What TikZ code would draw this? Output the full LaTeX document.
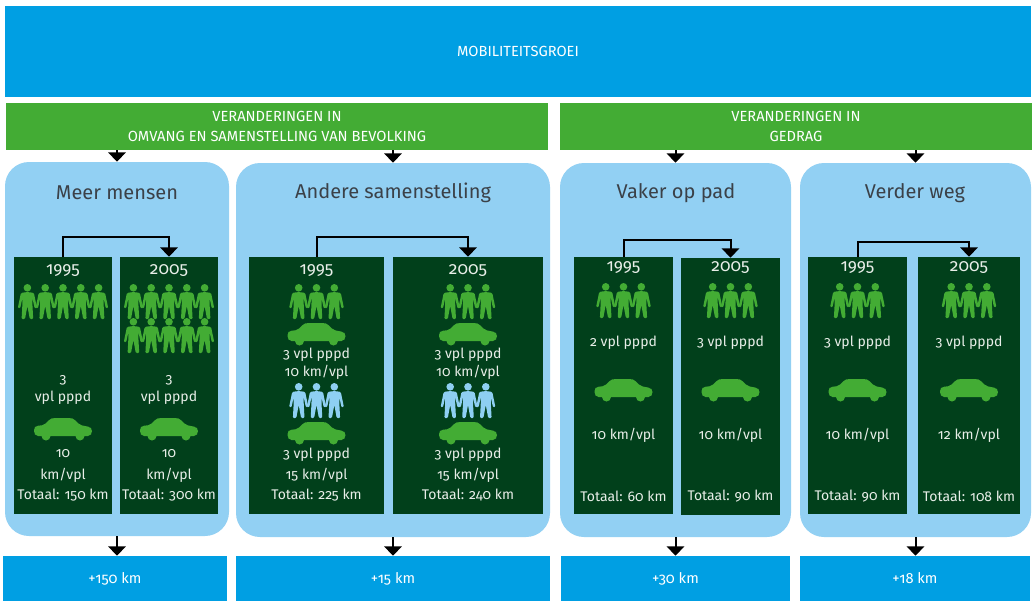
\documentclass[tikz,border=0pt]{standalone}
\usepackage{fontspec}
\setmainfont{Fira Sans}[Numbers=OldStyle]
\usetikzlibrary{arrows.meta,fit}
\definecolor{topblue}{HTML}{009FE3}
\definecolor{barGreen}{HTML}{43AC34}
\definecolor{panelBlue}{HTML}{92D0F3}
\definecolor{darkGreen}{HTML}{01401B}
\definecolor{iconGreen}{HTML}{43AC34}
\definecolor{iconBlue}{HTML}{8ECFF2}
\definecolor{titleGray}{HTML}{3B4148}
\definecolor{dataText}{HTML}{E8EEE8}
\newcommand\personrow[4]{%
  \foreach \k in {1,...,#3}{\pic[fill=#4] at ({#1+(\k-(#3+1)/2)*17.8},#2) {person};}}
\tikzset{
  person/.pic={
    \fill (0,3.8) circle[radius=3.8];
    \fill[rounded corners=0.8] (-2,8.2) -- (-6.5,9) -- (-9.6,24) -- (-7.2,24.3) -- (-5,14) -- (-5,20) -- (-5.8,35) -- (-2.4,35) -- (0,22) -- (2.4,35) -- (5.8,35) -- (5,20) -- (5,14) -- (7.2,24.3) -- (9.6,24) -- (6.5,9) -- (2,8.2) -- cycle;
  },
  car/.pic={
    \fill[rounded corners=1.5] (-29,10) -- (-27,8) -- (-19,7) -- (-13,1) -- (-10,0) -- (8,0) -- (11,1) -- (17,7) -- (27,9) -- (29,11) -- (29,15) -- (27,18) -- (-27,18) -- (-29,15) -- cycle;
    \fill (-17,18) circle[radius=4.5];
    \fill (17,18) circle[radius=4.5];
  },
  blk/.style={inner sep=0, draw=none},
  topbox/.style={blk, fill=topblue, text=white, font=\fontsize{11}{14}\selectfont},
  barbox/.style={blk, fill=barGreen, text=white, align=center, font=\fontsize{11}{15}\selectfont},
  panel/.style={blk, fill=panelBlue, rounded corners=18pt},
  dbox/.style={blk, fill=darkGreen},
  ptitle/.style={inner sep=0, text=titleGray, font=\fontsize{15}{18}\selectfont},
  year/.style={inner sep=0, text=dataText, font=\fontsize{13}{15}\selectfont},
  dat/.style={inner sep=0, text=dataText, font=\fontsize{10.5}{13}\selectfont},
  arr/.style={line width=1.5pt, -{Triangle[width=13pt,length=7pt]}},
}
\begin{document}
\begin{tikzpicture}[x=0.75pt,y=-0.75pt]
\useasboundingbox[fill=white] (0,0) rectangle (1033,601);
% header
\node[topbox, fit={(5,6) (1031,97)}] (top) {};
\node[inner sep=0, text=white, font=\fontsize{11}{14}\selectfont] (toptxt) at (518,51) {MOBILITEITSGROEI};
\node[barbox, fit={(6,103) (548,150)}] (g1) {};
\node[inner sep=0, text=white, align=center, font=\fontsize{11}{15}\selectfont] (g1txt) at (277,126) {VERANDERINGEN IN\\OMVANG EN SAMENSTELLING VAN BEVOLKING};
\node[barbox, fit={(560,103) (1032,150)}] (g2) {};
\node[inner sep=0, text=white, align=center, font=\fontsize{11}{15}\selectfont] (g2txt) at (796,126) {VERANDERINGEN IN\\GEDRAG};
% panels
\node[panel, fit={(5,162) (229,536)}] (p1) {};
\node[panel, fit={(236,163) (550,537)}] (p2) {};
\node[panel, fit={(560,163) (791,537)}] (p3) {};
\node[panel, fit={(800,163) (1031,537)}] (p4) {};
% result boxes
\node[topbox, fit={(3,556) (227,601)}] (r1) {};
\node[topbox, fit={(236,556) (550,601)}] (r2) {};
\node[topbox, fit={(561,556) (790,601)}] (r3) {};
\node[topbox, fit={(800,556) (1030,601)}] (r4) {};
\node[inner sep=0, text=white, font=\fontsize{11}{14}\selectfont] (r1t) at (r1.center) {+150 km};
\node[inner sep=0, text=white, font=\fontsize{11}{14}\selectfont] (r2t) at (r2.center) {+15 km};
\node[inner sep=0, text=white, font=\fontsize{11}{14}\selectfont] (r3t) at (r3.center) {+30 km};
\node[inner sep=0, text=white, font=\fontsize{11}{14}\selectfont] (r4t) at (r4.center) {+18 km};
% arrows top/bottom
\draw[arr] (g1.south -| p1.north) -- (p1.north);
\draw[arr] (g1.south -| p2.north) -- (p2.north);
\draw[arr] (g2.south -| p3.north) -- (p3.north);
\draw[arr] (g2.south -| p4.north) -- (p4.north);
\draw[arr] (p1.south) -- (p1.south |- r1.north);
\draw[arr] (p2.south) -- (p2.south |- r2.north);
\draw[arr] (p3.south) -- (p3.south |- r3.north);
\draw[arr] (p4.south) -- (p4.south |- r4.north);
% titles
\node[ptitle] (t1) at (117,193) {Meer mensen};
\node[ptitle] (t2) at (393,193) {Andere samenstelling};
\node[ptitle] (t3) at (676,193) {Vaker op pad};
\node[ptitle] (t4) at (915,193) {Verder weg};
% dark boxes
\node[dbox, fit={(14,257) (112,514)}] (b1a) {};
\node[dbox, fit={(120,257) (218,514)}] (b1b) {};
\node[dbox, fit={(249,257) (384,514)}] (b2a) {};
\node[dbox, fit={(393,257) (543,514)}] (b2b) {};
\node[dbox, fit={(574,257) (673,514)}] (b3a) {};
\node[dbox, fit={(681,258) (780,515)}] (b3b) {};
\node[dbox, fit={(808,257) (907,514)}] (b4a) {};
\node[dbox, fit={(918,257) (1020,514)}] (b4b) {};
% brackets
\draw[arr] (b1a.north) -- ++(0,-20) -| (b1b.north);
\draw[arr] (b2a.north) -- ++(0,-20) -| (b2b.north);
\draw[arr] (b3a.north) -- ++(0,-17) -| (b3b.north);
\draw[arr] (b4a.north) -- ++(0,-15) -| (b4b.north);
% panel 1
\node[year] (y1a) at (63,271) {1995};
\personrow{63}{284}{5}{iconGreen}
\node[dat] (d1a1) at (63,380) {3};
\node[dat] (d1a2) at (63,398) {vpl pppd};
\pic[fill=iconGreen] at (63,418) {car};
\node[dat] (d1a3) at (63,454) {10};
\node[dat] (d1a4) at (63,475) {km/vpl};
\node[dat] (d1a5) at (63,495) {Totaal: 150 km};
\node[year] (y1b) at (169,271) {2005};
\personrow{169}{284}{5}{iconGreen}
\personrow{169}{318}{5}{iconGreen}
\node[dat] (d1b1) at (169,380) {3};
\node[dat] (d1b2) at (169,398) {vpl pppd};
\pic[fill=iconGreen] at (169,418) {car};
\node[dat] (d1b3) at (169,454) {10};
\node[dat] (d1b4) at (169,475) {km/vpl};
\node[dat] (d1b5) at (169,495) {Totaal: 300 km};
% panel 2
\node[year] (y2a) at (316.5,271) {1995};
\personrow{316.5}{284}{3}{iconGreen}
\pic[fill=iconGreen] at (316.5,323) {car};
\node[dat] (d2a1) at (316.5,355) {3 vpl pppd};
\node[dat] (d2a2) at (316.5,372) {10 km/vpl};
\personrow{316.5}{383}{3}{iconBlue}
\pic[fill=iconGreen] at (316.5,422) {car};
\node[dat] (d2a3) at (316.5,455) {3 vpl pppd};
\node[dat] (d2a4) at (316.5,475) {15 km/vpl};
\node[dat] (d2a5) at (316.5,495) {Totaal: 225 km};
\node[year] (y2b) at (468,271) {2005};
\personrow{468}{284}{3}{iconGreen}
\pic[fill=iconGreen] at (468,323) {car};
\node[dat] (d2b1) at (468,355) {3 vpl pppd};
\node[dat] (d2b2) at (468,372) {10 km/vpl};
\personrow{468}{383}{3}{iconBlue}
\pic[fill=iconGreen] at (468,422) {car};
\node[dat] (d2b3) at (468,455) {3 vpl pppd};
\node[dat] (d2b4) at (468,475) {15 km/vpl};
\node[dat] (d2b5) at (468,495) {Totaal: 240 km};
% panel 3
\node[year] (y3a) at (623.5,268) {1995};
\personrow{623.5}{283}{3}{iconGreen}
\node[dat] (d3a1) at (623.5,343) {2 vpl pppd};
\pic[fill=iconGreen] at (623.5,379) {car};
\node[dat] (d3a2) at (623.5,435) {10 km/vpl};
\node[dat] (d3a3) at (623.5,496) {Totaal: 60 km};
\node[year] (y3b) at (730.5,268) {2005};
\personrow{730.5}{283}{3}{iconGreen}
\node[dat] (d3b1) at (730.5,343) {3 vpl pppd};
\pic[fill=iconGreen] at (730.5,379) {car};
\node[dat] (d3b2) at (730.5,435) {10 km/vpl};
\node[dat] (d3b3) at (730.5,496) {Totaal: 90 km};
% panel 4
\node[year] (y4a) at (857.5,268) {1995};
\personrow{857.5}{283}{3}{iconGreen}
\node[dat] (d4a1) at (857.5,343) {3 vpl pppd};
\pic[fill=iconGreen] at (857.5,379) {car};
\node[dat] (d4a2) at (857.5,435) {10 km/vpl};
\node[dat] (d4a3) at (857.5,496) {Totaal: 90 km};
\node[year] (y4b) at (969,268) {2005};
\personrow{969}{283}{3}{iconGreen}
\node[dat] (d4b1) at (969,343) {3 vpl pppd};
\pic[fill=iconGreen] at (969,379) {car};
\node[dat] (d4b2) at (969,435) {12 km/vpl};
\node[dat] (d4b3) at (969,496) {Totaal: 108 km};
\end{tikzpicture}
\end{document}
